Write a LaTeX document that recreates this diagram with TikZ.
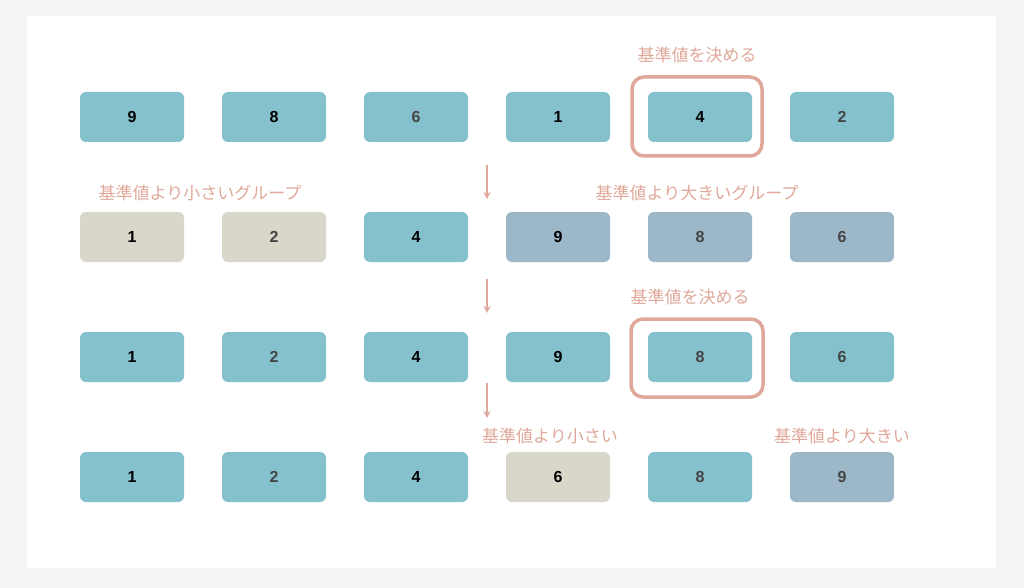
\documentclass[tikz,border=0pt]{standalone}
\usepackage{fontspec}
\setmainfont{Liberation Sans}
\newfontfamily\jp{Noto Sans CJK JP}
\usetikzlibrary{arrows.meta}
\definecolor{teal}{HTML}{85C1CC}
\definecolor{beige}{HTML}{D9D6CA}
\definecolor{grayblue}{HTML}{9CB7C8}
\definecolor{salmon}{HTML}{E0A89A}
\definecolor{dk}{HTML}{444444}
\begin{document}
\begin{tikzpicture}[x=1pt,y=-1pt,
 cell/.style={rounded corners=6pt,minimum width=104pt,minimum height=50pt,inner sep=0pt,font=\bfseries\fontsize{16}{16}\selectfont},
 t/.style={cell,fill=teal}, b/.style={cell,fill=beige}, g/.style={cell,fill=grayblue},
 hl/.style={draw=salmon,line width=3.5pt,rounded corners=12pt},
 lab/.style={text=salmon,font=\jp\fontsize{17}{17}\selectfont},
 arr/.style={draw=salmon,line width=1.5pt,-{Stealth[length=7pt,width=7pt]}}]
\useasboundingbox (0,0) rectangle (1024,588);
\fill[black!4] (0,0) rectangle (1024,588);
\fill[white] (27,16) rectangle (996,568);
% row 1
\node[t] (a1) at (132,117) {9};
\node[t] (a2) at (274,117) {8};
\node[t,text=dk] (a3) at (416,117) {6};
\node[t] (a4) at (558,117) {1};
\node[t] (a5) at (700,117) {4};
\node[t,text=dk] (a6) at (842,117) {2};
\draw[hl] (632,77) rectangle (762,156);
\node[lab] (l1) at (697,55) {基準値を決める};
% row 2
\node[b] (b1) at (132,237) {1};
\node[b,text=dk] (b2) at (274,237) {2};
\node[t] (b3) at (416,237) {4};
\node[g] (b4) at (558,237) {9};
\node[g,text=dk] (b5) at (700,237) {8};
\node[g,text=dk] (b6) at (842,237) {6};
\node[lab] (l2) at (200,193) {基準値より小さいグループ};
\node[lab] (l3) at (697,193) {基準値より大きいグループ};
% row 3
\node[t] (c1) at (132,357) {1};
\node[t,text=dk] (c2) at (274,357) {2};
\node[t] (c3) at (416,357) {4};
\node[t] (c4) at (558,357) {9};
\node[t,text=dk] (c5) at (700,357) {8};
\node[t,text=dk] (c6) at (842,357) {6};
\draw[hl] (631,319) rectangle (763,397);
\node[lab] (l4) at (690,297) {基準値を決める};
% row 4
\node[t] (d1) at (132,477) {1};
\node[t,text=dk] (d2) at (274,477) {2};
\node[t] (d3) at (416,477) {4};
\node[b] (d4) at (558,477) {6};
\node[t,text=dk] (d5) at (700,477) {8};
\node[g,text=dk] (d6) at (842,477) {9};
\node[lab] (l5) at (550,436) {基準値より小さい};
\node[lab] (l6) at (842,436) {基準値より大きい};
% arrows
\coordinate (p1) at (487,165); \coordinate (q1) at (487,199);
\coordinate (p2) at (487,279); \coordinate (q2) at (487,313);
\coordinate (p3) at (487,383); \coordinate (q3) at (487,418);
\draw[arr] (p1) -- (q1);
\draw[arr] (p2) -- (q2);
\draw[arr] (p3) -- (q3);
\end{tikzpicture}
\end{document}
